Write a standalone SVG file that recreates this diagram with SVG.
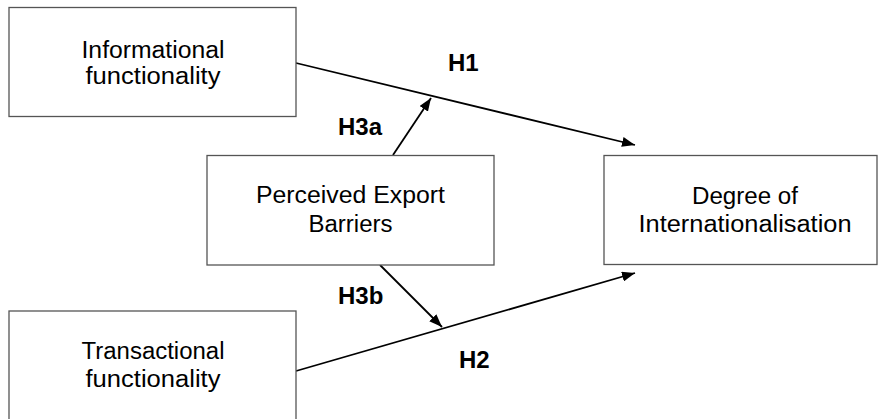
<svg xmlns="http://www.w3.org/2000/svg" width="878" height="419" viewBox="0 0 878 419">
  <style>
    .box { fill: #ffffff; stroke: #555555; stroke-width: 1.3; }
    .txt { font-family: "Liberation Sans", Arial, sans-serif; font-size: 23px; fill: #000000; text-anchor: middle; }
    .lbl { font-family: "Liberation Sans", Arial, sans-serif; font-size: 24px; font-weight: bold; fill: #000000; }
    .edge { stroke: #000000; stroke-width: 1.8; fill: none; marker-end: url(#arrow); }
  </style>
  <defs>
    <marker id="arrow" markerUnits="userSpaceOnUse" markerWidth="14" markerHeight="10" refX="13" refY="5" orient="auto">
      <path d="M0,0 L13,5 L0,10 z" fill="#000000"/>
    </marker>
  </defs>
  <rect width="878" height="419" fill="#ffffff"/>

  <g id="connectors">
    <line class="edge" x1="296" y1="63" x2="635" y2="145"/>
    <line class="edge" x1="296" y1="371" x2="635" y2="273"/>
    <line class="edge" x1="393" y1="155" x2="431" y2="98"/>
    <line class="edge" x1="380" y1="265" x2="442" y2="327"/>
    <text class="lbl" x="448" y="71">H1</text>
    <text class="lbl" x="338" y="135">H3a</text>
    <text class="lbl" x="338" y="304">H3b</text>
    <text class="lbl" x="459" y="368">H2</text>
  </g>

  <g id="informational">
    <rect class="box" x="9" y="7.5" width="287" height="109"/>
    <text class="txt" x="153" y="58" textLength="143" lengthAdjust="spacingAndGlyphs">Informational</text>
    <text class="txt" x="153" y="84" textLength="135" lengthAdjust="spacingAndGlyphs">functionality</text>
  </g>

  <g id="barriers">
    <rect class="box" x="207" y="155.5" width="287" height="109.5"/>
    <text class="txt" x="350.5" y="203" textLength="189" lengthAdjust="spacingAndGlyphs">Perceived Export</text>
    <text class="txt" x="350.5" y="232" textLength="84" lengthAdjust="spacingAndGlyphs">Barriers</text>
  </g>

  <g id="degree">
    <rect class="box" x="604" y="155.5" width="273" height="109"/>
    <text class="txt" x="745" y="204" textLength="106" lengthAdjust="spacingAndGlyphs">Degree of</text>
    <text class="txt" x="745" y="232" textLength="213" lengthAdjust="spacingAndGlyphs">Internationalisation</text>
  </g>

  <g id="transactional">
    <rect class="box" x="9" y="311" width="287" height="120"/>
    <text class="txt" x="153" y="359" textLength="143" lengthAdjust="spacingAndGlyphs">Transactional</text>
    <text class="txt" x="153" y="387" textLength="135" lengthAdjust="spacingAndGlyphs">functionality</text>
  </g>
</svg>
